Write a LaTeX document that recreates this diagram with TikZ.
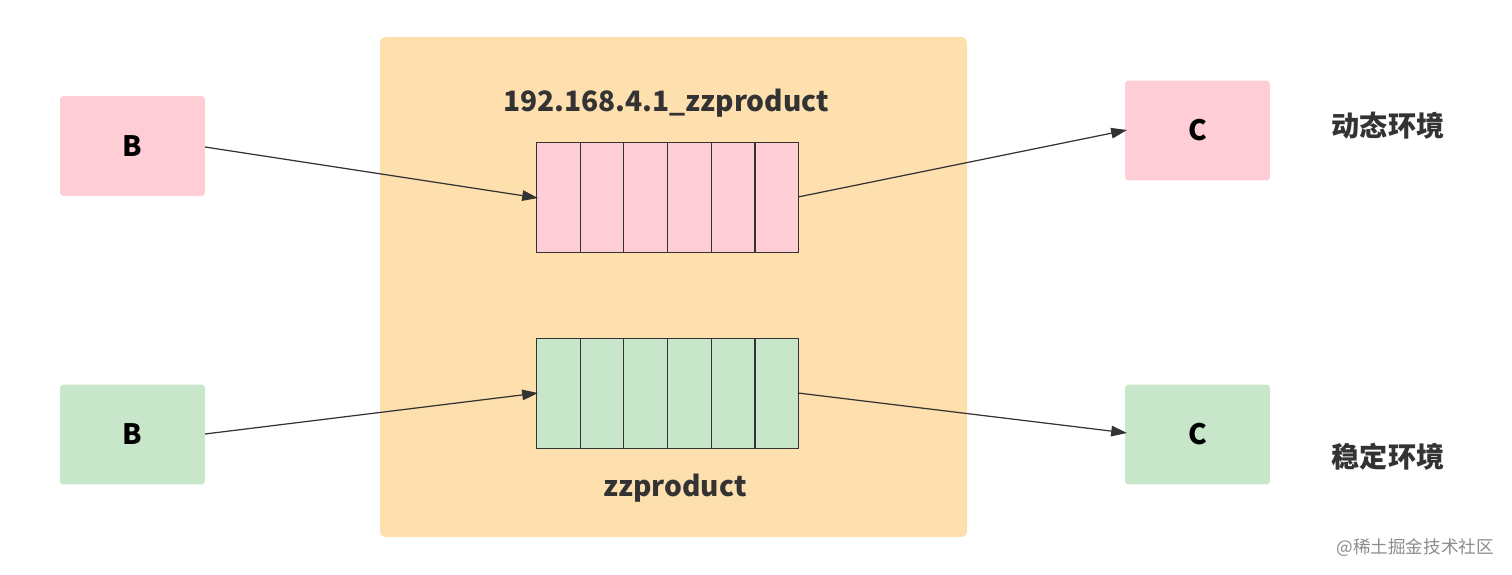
\documentclass[tikz,border=0pt]{standalone}
\usepackage{fontspec}
\setmainfont{Noto Sans CJK SC}
\usetikzlibrary{arrows.meta}
\definecolor{pk}{HTML}{FFCDD5}
\definecolor{gr}{HTML}{C8E6C9}
\definecolor{or}{HTML}{FEDFAE}
\begin{document}
\begin{tikzpicture}[x=0.02cm,y=-0.02cm,
 box/.style={draw=none,rounded corners=2pt,minimum width=2.9cm,minimum height=2cm,font=\fontsize{16}{18}\selectfont\bfseries},
 cell/.style={draw=black!80,line width=0.6pt,minimum width=0.874cm,minimum height=2.2cm,inner sep=0pt},
 arr/.style={-{Triangle[length=9pt,width=6pt]},draw=black!80,line width=0.7pt},
 lab/.style={font=\fontsize{16}{18}\selectfont\bfseries,text=black!80}]
\useasboundingbox (0,0) rectangle (1512,575);
\fill[or,rounded corners=3pt] (380,37) rectangle (967,537);
\node[box,fill=pk] (b1) at (132.5,146) {B};
\node[box,fill=gr] (b2) at (132.5,434.5) {B};
\node[box,fill=pk] (c1) at (1197.5,130.5) {C};
\node[box,fill=gr] (c2) at (1197.5,434.5) {C};
\foreach \i in {0,...,5}{
 \node[cell,fill=pk,anchor=north west] (p\i) at ({536+\i*43.7},142) {};
 \node[cell,fill=gr,anchor=north west] (g\i) at ({536+\i*43.7},338) {};
}
\node[lab] (t1) at (666,103) {192.168.4.1\_zzproduct};
\node[lab] (t2) at (675,488) {zzproduct};
\node[lab] (e1) at (1388,126) {动态环境};
\node[lab] (e2) at (1388,457) {稳定环境};
\node[text=black!45,font=\fontsize{10}{12}\selectfont,anchor=east] (wm) at (1500,548) {@稀土掘金技术社区};
\coordinate (pin) at (538,198);
\coordinate (pout) at (798,197);
\coordinate (gin) at (538,393);
\coordinate (gout) at (798,393);
\coordinate (c1in) at (1127,130);
\coordinate (c2in) at (1127,433);
\coordinate (b1out) at (205,147);
\coordinate (b2out) at (205,434);
\draw[arr] (b1out) -- (pin);
\draw[arr] (pout) -- (c1in);
\draw[arr] (b2out) -- (gin);
\draw[arr] (gout) -- (c2in);
\end{tikzpicture}
\end{document}
